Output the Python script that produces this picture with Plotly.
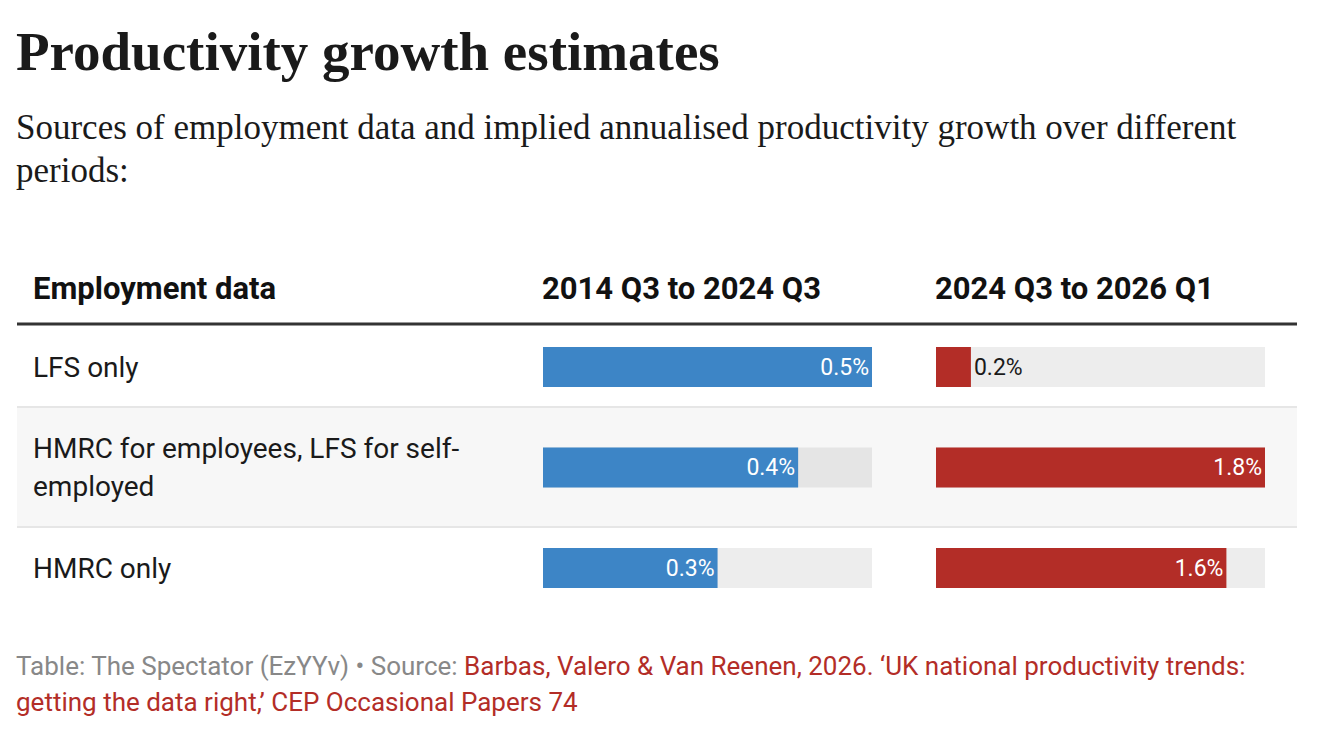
import plotly.graph_objects as go

# page body adds an 8px margin, so the figure is drawn smaller and shifted
PAD = 8
W, H = 1324 - 2 * PAD, 748 - 2 * PAD

# Table contents
row_labels = ["LFS only", "HMRC for employees, LFS for self-employed", "HMRC only"]
row_label_lines = [["LFS only"], ["HMRC for employees, LFS for self-", "employed"], ["HMRC only"]]
col_titles = ["Employment data", "2014 Q3 to 2024 Q3", "2024 Q3 to 2026 Q1"]
growth_2014_2024 = [0.49, 0.38, 0.26]
growth_2024_2026 = [0.19, 1.79, 1.58]

title = "Productivity growth estimates"
subtitle_lines = [
    "Sources of employment data and implied annualised productivity growth over different",
    "periods:",
]
footer_grey = "Table: The Spectator (EzYYv) • Source: "
footer_red = ["Barbas, Valero &amp; Van Reenen, 2026. ‘UK national productivity trends:",
              "getting the data right,’ CEP Occasional Papers 74"]

BLUE = "#3d85c6"
RED = "#b32d27"
TRACK = "rgba(0,0,0,0.07)"
INK = "#1a1a1a"


# screen pixel -> paper coordinates
def px(x):
    return (x - PAD) / W


def py(y):
    return 1 - (y - PAD) / H


fig = go.Figure()

columns = [(growth_2014_2024, BLUE, "x", "y"), (growth_2024_2026, RED, "x2", "y")]
for values, color, xa, ya in columns:
    top = max(values)
    # background track
    fig.add_trace(go.Bar(
        y=row_labels, x=[top] * len(values), orientation="h",
        marker=dict(color=TRACK, line=dict(width=0)), width=0.4,
        xaxis=xa, yaxis=ya, hoverinfo="skip", showlegend=False,
    ))
    fig.add_trace(go.Bar(
        y=row_labels, x=values, orientation="h",
        marker=dict(color=color, line=dict(width=0)), width=0.4,
        text=[f"{v:.1f}%" for v in values], textposition="auto",
        insidetextanchor="end", textangle=0, constraintext="none",
        insidetextfont=dict(family="Roboto", size=23, color="white"),
        outsidetextfont=dict(family="Roboto", size=23, color=INK),
        cliponaxis=False,
        xaxis=xa, yaxis=ya, showlegend=False,
        hovertemplate="%{y}: %{x:.1f}%<extra></extra>",
    ))

axis_common = dict(showgrid=False, zeroline=False, showticklabels=False, showline=False, fixedrange=True)
fig.update_layout(
    width=W, height=H,
    margin=dict(l=0, r=0, t=0, b=0),
    paper_bgcolor="white", plot_bgcolor="rgba(0,0,0,0)",
    barmode="overlay",
    xaxis=dict(domain=[px(543), px(872)], range=[0, max(growth_2014_2024)], **axis_common),
    xaxis2=dict(domain=[px(936), px(1265)], range=[0, max(growth_2024_2026)], anchor="y", **axis_common),
    yaxis=dict(domain=[py(618.25), py(316.75)], type="category", categoryarray=row_labels,
               range=[2.5, -0.5], **axis_common),
    font=dict(family="Roboto", color=INK),
)

# Row band and rules
fig.add_shape(type="rect", xref="paper", yref="paper", x0=px(17), x1=px(1297), y0=py(527), y1=py(407),
              fillcolor="#f7f7f7", line=dict(width=0), layer="below")
fig.add_shape(type="line", xref="paper", yref="paper", x0=px(17), x1=px(1297), y0=py(324), y1=py(324),
              line=dict(color="#333333", width=3))
for yy in (407, 527):
    fig.add_shape(type="line", xref="paper", yref="paper", x0=px(17), x1=px(1297), y0=py(yy), y1=py(yy),
                  line=dict(color="#e6e6e6", width=2))

ann = []
# Title and subtitle
ann.append(dict(text=f"<b>{title}</b>", x=px(14), y=py(51), xanchor="left", yanchor="middle",
                font=dict(family="Liberation Serif", size=55, color=INK)))
for i, line in enumerate(subtitle_lines):
    ann.append(dict(text=line, x=px(14), y=py(127 + 43 * i), xanchor="left", yanchor="middle",
                    font=dict(family="Liberation Serif", size=35, color=INK)))

# Column headers
for text, x in zip(col_titles, (31, 540, 933)):
    ann.append(dict(text=f"<b>{text}</b>", x=px(x), y=py(288), xanchor="left", yanchor="middle",
                    font=dict(family="Roboto", size=31, color="#111111")))

# Row labels
for label, lines in zip(row_labels, row_label_lines):
    n = len(lines)
    for j, line in enumerate(lines):
        offset = (j - (n - 1) / 2) * 38
        ann.append(dict(text=line, x=px(31), xref="paper", y=label, yref="y", yshift=-offset,
                        xanchor="left", yanchor="middle",
                        font=dict(family="Roboto", size=28, color=INK)))

# Footer
ann.append(dict(text=f"<span style='color:#888888'>{footer_grey}</span>"
                     f"<span style='color:{RED}'>{footer_red[0]}</span>",
                x=px(14), y=py(666), xanchor="left", yanchor="middle",
                font=dict(family="Roboto", size=26)))
ann.append(dict(text=footer_red[1], x=px(14), y=py(702), xanchor="left", yanchor="middle",
                font=dict(family="Roboto", size=26, color=RED)))

for a in ann:
    a.setdefault("xref", "paper")
    a.setdefault("yref", "paper")
    a["showarrow"] = False
fig.update_layout(annotations=ann)

fig.write_html("out.html")
